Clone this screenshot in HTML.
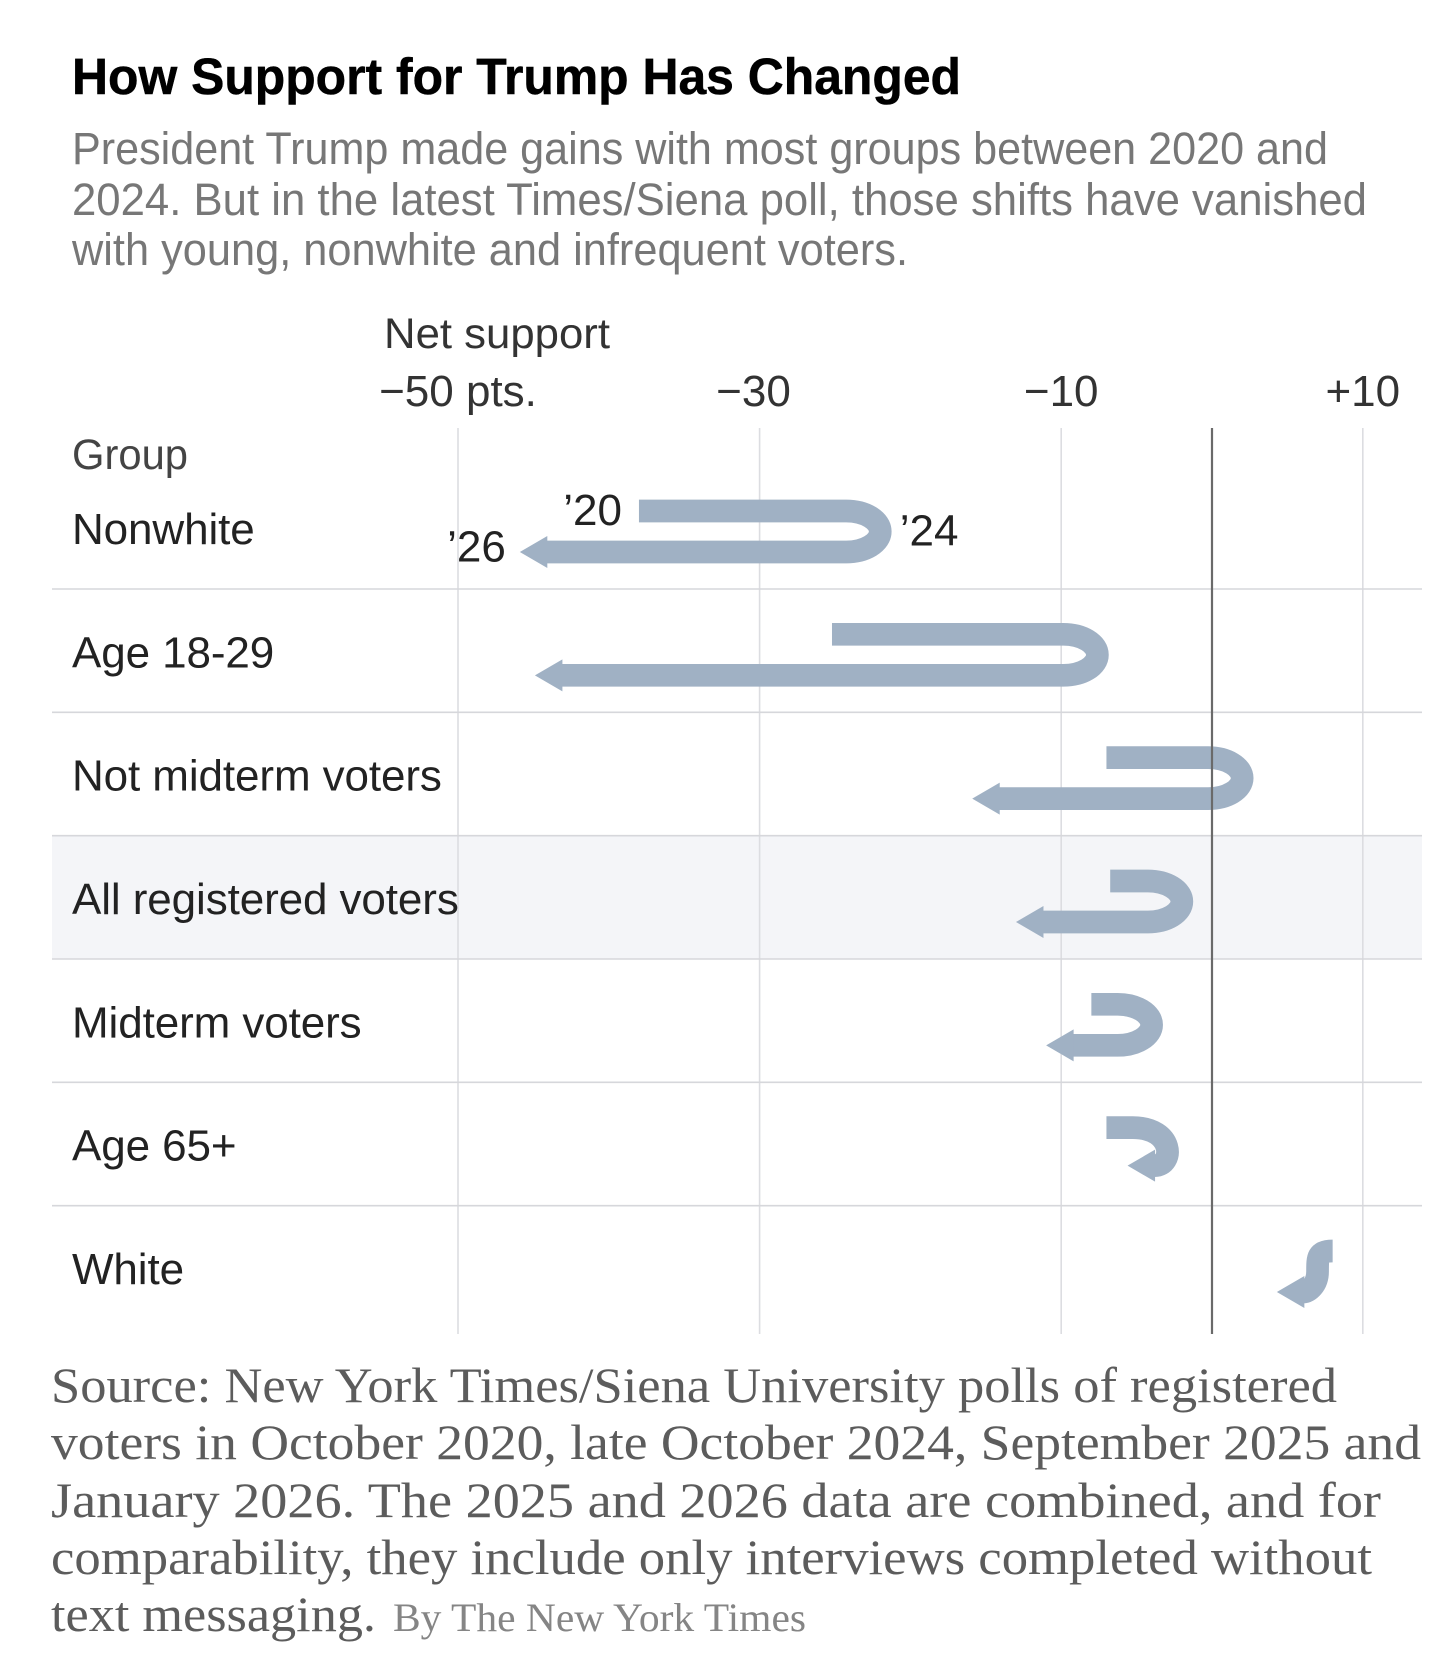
<!DOCTYPE html>
<html lang="en">
<head>
<meta charset="utf-8">
<title>How Support for Trump Has Changed</title>
<style>
  html, body { margin: 0; padding: 0; background: #fff; }
  svg { display: block; }
  .sans { font-family: "Liberation Sans", sans-serif; }
  .serif { font-family: "Liberation Serif", serif; }
</style>
</head>
<body>
<svg id="chart" xmlns="http://www.w3.org/2000/svg" width="1456" height="1662" viewBox="0 0 1456 1662">
  <rect x="0" y="0" width="1456" height="1662" fill="#ffffff"/>
  <text class="sans" x="72" y="94" font-size="51" font-weight="700" fill="#000" stroke="#000" stroke-width="0.5" textLength="889" lengthAdjust="spacingAndGlyphs">How Support for Trump Has Changed</text>
  <g class="sans" font-size="45" fill="#777777">
    <text x="72" y="164" textLength="1256" lengthAdjust="spacingAndGlyphs">President Trump made gains with most groups between 2020 and</text>
    <text x="72" y="215" textLength="1295" lengthAdjust="spacingAndGlyphs">2024. But in the latest Times/Siena poll, those shifts have vanished</text>
    <text x="72" y="265" textLength="836" lengthAdjust="spacingAndGlyphs">with young, nonwhite and infrequent voters.</text>
  </g>
  <text class="sans" x="384" y="348" font-size="43" fill="#333" textLength="226" lengthAdjust="spacingAndGlyphs">Net support</text>
  <text class="sans" x="72" y="469" font-size="43" fill="#444" textLength="116" lengthAdjust="spacingAndGlyphs">Group</text>
  <g id="row-bands"></g>
  <g id="grid"></g>
  <g id="rows"></g>
  <g id="arrows"></g>
  <g id="zero"></g>
  <g id="ticks"></g>
  <g id="labels"></g>
  <g id="annotations"></g>
  <g class="serif" font-size="50" fill="#5c5c5c">
    <text x="51" y="1402" textLength="1286" lengthAdjust="spacingAndGlyphs">Source: New York Times/Siena University polls of registered</text>
    <text x="51" y="1459" textLength="1370" lengthAdjust="spacingAndGlyphs">voters in October 2020, late October 2024, September 2025 and</text>
    <text x="51" y="1517" textLength="1330" lengthAdjust="spacingAndGlyphs">January 2026. The 2025 and 2026 data are combined, and for</text>
    <text x="51" y="1574" textLength="1321" lengthAdjust="spacingAndGlyphs">comparability, they include only interviews completed without</text>
    <text x="51" y="1631" textLength="325" lengthAdjust="spacingAndGlyphs">text messaging.</text>
    <text x="393" y="1631" font-size="40" fill="#858585" textLength="413" lengthAdjust="spacingAndGlyphs">By The New York Times</text>
  </g>
</svg>
<script>
const categories = ["Nonwhite", "Age 18-29", "Not midterm voters", "All registered voters", "Midterm voters", "Age 65+", "White"];
const net2020 = [-38, -25.2, -7, -6.75, -8, -7, 8];
const net2024 = [-22, -7.6, 2, -2, -4, -3, 7];
const net2026 = [-45.9, -44.9, -15.9, -13, -11, -5.6, 4.3];
const tickValues = [-50, -30, -10, 10];
const tickLabels = ["−50 pts.", "−30\u00a0", "−10", "+10"];
const highlightedCategory = "All registered voters";
const yearLabels = ["’20", "’24", "’26"];

const NS = "http://www.w3.org/2000/svg";
const BAND = 22.7, BEND = 34, HEAD_LEN = 27, HEAD_HALF = 16;
const GRID_TOP = 428, GRID_BOTTOM = 1334, ROW_LEFT = 52, ROW_RIGHT = 1422;
const COLOR = "#a0b1c4";

function x(v) { return 1212 + 15.08 * v; }
function rowBottom(i) { return 589 + 123.33 * i; }

function make(tag, attrs, parentId, text) {
  const el = document.createElementNS(NS, tag);
  for (const k in attrs) el.setAttribute(k, attrs[k]);
  if (text !== undefined) el.textContent = text;
  if (parentId) document.getElementById(parentId).appendChild(el);
  return el;
}
function slug(s) { return s.toLowerCase().replace(/[^a-z0-9]+/g, "-"); }

categories.forEach(function (cat, i) {
  if (cat === highlightedCategory) {
    const band = make("rect", { x: ROW_LEFT, y: rowBottom(i - 1), width: ROW_RIGHT - ROW_LEFT, height: rowBottom(i) - rowBottom(i - 1), fill: "#f4f5f8" }, "row-bands");
    
    
  }
});

tickValues.forEach(function (v, i) {
  const line = make("line", { x1: x(v), x2: x(v), y1: GRID_TOP, y2: GRID_BOTTOM, stroke: "#dcdde1", "stroke-width": 1.6 }, "grid");
  
  
  const label = make("text", { x: x(v), y: 406, "text-anchor": "middle", "font-size": 44, fill: "#333", class: "sans" }, "ticks", tickLabels[i]);
  
  
});

categories.forEach(function (cat, i) {
  if (i < categories.length - 1) {
    const divider = make("line", { x1: ROW_LEFT, x2: ROW_RIGHT, y1: rowBottom(i), y2: rowBottom(i), stroke: "#d6d7db", "stroke-width": 1.6 }, "rows");
    
    
  }
  const label = make("text", { x: 72, y: rowBottom(i) - 45, "font-size": 44, "letter-spacing": "-0.1", fill: "#222", class: "sans" }, "labels", cat);
  
  

  const y1 = rowBottom(i) - 78;
  let yEnd = rowBottom(i) - 37;
  const xs = x(net2020[i]), xr = x(net2024[i]), tip = x(net2026[i]);
  const base = tip + HEAD_LEN;
  let d;
  if (xs >= xr) {
    const mid = (y1 + yEnd) / 2;
    d = "M" + xs + "," + y1 +
        " C" + xr + "," + y1 + " " + xr + "," + (y1 + 6) + " " + xr + "," + mid +
        " C" + xr + "," + (mid + 14) + " " + (base + (xr - base) * 0.3) + "," + yEnd + " " + base + "," + yEnd;
  } else if (base > xr - BEND) {
    yEnd -= 3;
    const xa = Math.max(xs, xr - BEND);
    const cx = (8 * xr - (xa + base)) / 6;
    d = "M" + xs + "," + y1 + " L" + xa + "," + y1 +
        " C" + cx + "," + y1 + " " + cx + "," + yEnd + " " + base + "," + yEnd;
  } else {
    const xa = Math.max(xs, xr - BEND);
    d = "M" + xs + "," + y1 + " L" + xa + "," + y1 +
        " A" + (xr - xa) + "," + ((yEnd - y1) / 2) + " 0 0 1 " + xa + "," + yEnd +
        " L" + base + "," + yEnd;
  }
  const body = make("path", { d: d, fill: "none", stroke: COLOR, "stroke-width": BAND }, "arrows");
  
  
  const head = make("polygon", {
    points: tip + "," + yEnd + " " + (base + 0.5) + "," + (yEnd - HEAD_HALF) + " " + (base + 0.5) + "," + (yEnd + HEAD_HALF),
    fill: COLOR
  }, "arrows");
  
  

  if (i === 0) {
    const a20 = make("text", { x: xs - 17, y: y1 + 14, "text-anchor": "end", "font-size": 44, fill: "#222", class: "sans" }, "annotations", yearLabels[0]);
    
    
    const a24 = make("text", { x: xr + 19.5, y: (y1 + yEnd) / 2 + 14, "font-size": 44, fill: "#222", class: "sans" }, "annotations", yearLabels[1]);
    
    
    const a26 = make("text", { x: tip - 14, y: yEnd + 9.5, "text-anchor": "end", "font-size": 44, fill: "#222", class: "sans" }, "annotations", yearLabels[2]);
    
    
  }
});

const zeroLine = make("line", { x1: x(0), x2: x(0), y1: GRID_TOP, y2: GRID_BOTTOM, stroke: "#6a6a6a", "stroke-width": 2.2 }, "zero");


</script>
</body>
</html>
